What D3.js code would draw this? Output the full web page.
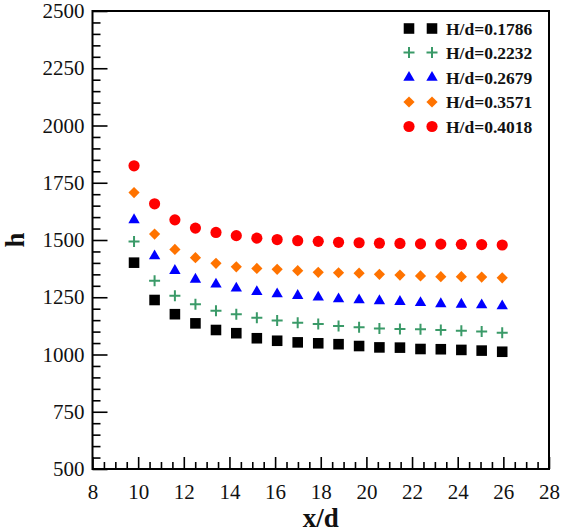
<!DOCTYPE html>
<html>
<head>
<meta charset="utf-8">
<script src="https://cdn.jsdelivr.net/npm/d3@7"></script>
<style>
  html, body { margin: 0; padding: 0; background: #fff; }
  svg { display: block; }
</style>
</head>
<body>
<svg id="chart" width="562" height="532"></svg>
<script>
// ---- data ----
const xd = [9.82, 10.72, 11.61, 12.51, 13.41, 14.30, 15.20, 16.09, 16.99, 17.89,
            18.78, 19.68, 20.57, 21.47, 22.37, 23.26, 24.16, 25.05, 25.95];
const seriesNames = ["H/d=0.1786", "H/d=0.2232", "H/d=0.2679", "H/d=0.3571", "H/d=0.4018"];
const h1786 = [1401, 1238, 1176, 1136, 1107, 1093, 1071, 1060, 1053, 1049,
               1045, 1037, 1031, 1030, 1024, 1023, 1020, 1017, 1012];
const h2232 = [1493, 1322, 1257, 1219, 1191, 1176, 1161, 1148, 1139, 1133,
               1124, 1119, 1114, 1111, 1110, 1107, 1104, 1100, 1095];
const h2679 = [1588, 1430, 1366, 1328, 1307, 1289, 1274, 1264, 1257, 1250,
               1242, 1238, 1234, 1231, 1226, 1221, 1219, 1216, 1212];
const h3571 = [1707, 1526, 1459, 1423, 1398, 1383, 1376, 1372, 1366, 1359,
               1357, 1355, 1350, 1347, 1343, 1340, 1340, 1338, 1335];
const h4018 = [1824, 1658, 1588, 1552, 1533, 1519, 1508, 1502, 1497, 1494,
               1490, 1488, 1486, 1485, 1483, 1482, 1481, 1480, 1478];
const xTicks = [8, 10, 12, 14, 16, 18, 20, 22, 24, 26, 28];
const yTicks = [500, 750, 1000, 1250, 1500, 1750, 2000, 2250, 2500];

const seriesValues = [h1786, h2232, h2679, h3571, h4018];
const colors = ["#000000", "#3a9a68", "#0000ff", "#ff7300", "#ff0000"];
const symbols = ["square", "plus", "triangle", "diamond", "circle"];

// ---- layout ----
const L = 92.5, R = 549, T = 11, B = 469;
const svg = d3.select("#chart");
const x = d3.scaleLinear().domain([8, 28]).range([L, R]);
const y = d3.scaleLinear().domain([500, 2500]).range([B, T]);
const serif = "'Liberation Serif', 'Times New Roman', serif";

// minor ticks
const xMinor = d3.range(8, 28.001, 0.5).filter(v => Math.abs(v / 2 - Math.round(v / 2)) > 1e-6);
const yMinor = d3.range(500, 2500.01, 50).filter(v => v % 250 !== 0);

const xAxis = d3.axisBottom(x).tickValues(xTicks).tickSizeInner(-12).tickSizeOuter(0).tickPadding(18)
  .tickFormat(d3.format("d"));
const gx = svg.append("g").attr("transform", `translate(0,${B})`).call(xAxis);
gx.select(".domain").remove();
gx.selectAll("line").attr("stroke", "#000").attr("stroke-width", 1.6);
gx.selectAll("text").attr("font-family", serif).attr("font-size", 21).attr("fill", "#111").attr("dy", "0.55em");
const gxm = svg.append("g").attr("transform", `translate(0,${B})`)
  .call(d3.axisBottom(x).tickValues(xMinor).tickSizeInner(-7).tickSizeOuter(0).tickFormat(""));
gxm.select(".domain").remove();
gxm.selectAll("line").attr("stroke", "#000").attr("stroke-width", 1.6);

const yAxis = d3.axisLeft(y).tickValues(yTicks).tickSizeInner(-15).tickSizeOuter(0).tickPadding(8)
  .tickFormat(d3.format("d"));
const gy = svg.append("g").attr("transform", `translate(${L},0)`).call(yAxis);
gy.select(".domain").remove();
gy.selectAll("line").attr("stroke", "#000").attr("stroke-width", 1.6);
gy.selectAll("text").attr("font-family", serif).attr("font-size", 21).attr("fill", "#111");
const gym = svg.append("g").attr("transform", `translate(${L},0)`)
  .call(d3.axisLeft(y).tickValues(yMinor).tickSizeInner(-8).tickSizeOuter(0).tickFormat(""));
gym.select(".domain").remove();
gym.selectAll("line").attr("stroke", "#000").attr("stroke-width", 1.6);

// frame
svg.append("rect").attr("x", L).attr("y", T).attr("width", R - L).attr("height", B - T)
  .attr("fill", "none").attr("stroke", "#000").attr("stroke-width", 2);

// axis titles
svg.append("text").attr("x", (L + R) / 2).attr("y", 527).attr("text-anchor", "middle")
  .attr("font-family", serif).attr("font-weight", "bold").attr("font-size", 27).attr("fill", "#111").text("x/d");
svg.append("text").attr("transform", `translate(24,${y(1500)}) rotate(-90)`).attr("text-anchor", "middle")
  .attr("font-family", serif).attr("font-weight", "bold").attr("font-size", 27).attr("fill", "#111").text("h");

// marker drawing
function drawMarker(g, i, cx, cy) {
  const t = symbols[i], c = colors[i];
  if (t === "plus") {
    const a = 5.5;
    g.append("path").attr("d", `M${cx - a},${cy}H${cx + a}M${cx},${cy - a}V${cy + a}`)
      .attr("stroke", c).attr("stroke-width", 2).attr("fill", "none");
  } else if (t === "diamond") {
    const a = 5.6;
    g.append("path").attr("d", `M${cx},${cy - a}L${cx + a},${cy}L${cx},${cy + a}L${cx - a},${cy}Z`).attr("fill", c);
  } else if (t === "square") {
    g.append("path").attr("d", d3.symbol().type(d3.symbolSquare).size(112)()).attr("transform", `translate(${cx},${cy})`).attr("fill", c);
  } else if (t === "triangle") {
    g.append("path").attr("d", d3.symbol().type(d3.symbolTriangle).size(56)()).attr("transform", `translate(${cx},${cy})`).attr("fill", c);
  } else {
    g.append("path").attr("d", d3.symbol().type(d3.symbolCircle).size(98)()).attr("transform", `translate(${cx},${cy})`).attr("fill", c);
  }
}

const plot = svg.append("g");
seriesValues.forEach((vals, i) => {
  vals.forEach((v, j) => drawMarker(plot, i, x(xd[j]), y(v)));
});

// legend
const legY = [28.5, 52.5, 77.5, 102, 126.5];
const leg = svg.append("g");
seriesNames.forEach((name, i) => {
  drawMarker(leg, i, 409, legY[i]);
  drawMarker(leg, i, 432, legY[i]);
  leg.append("text").attr("x", 446).attr("y", legY[i]).attr("dy", "0.35em")
    .attr("font-family", serif).attr("font-weight", "bold").attr("font-size", 17.5).attr("fill", "#111").text(name);
});
</script>
</body>
</html>
